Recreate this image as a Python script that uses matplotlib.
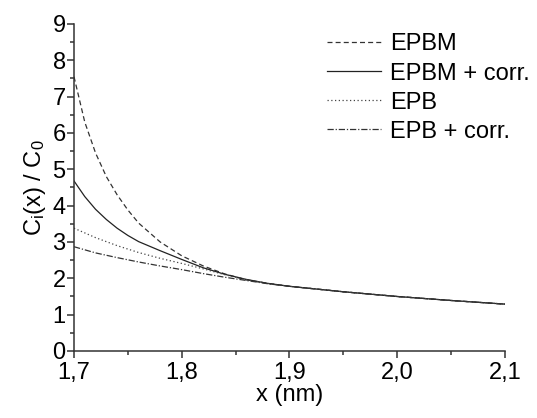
import numpy as np
import matplotlib
matplotlib.use('Agg')
import matplotlib.pyplot as plt

# values
x_epbm = [1.70, 1.71, 1.72, 1.73, 1.74, 1.75, 1.76, 1.78, 1.80, 1.82, 1.84, 1.86, 1.88, 1.90, 1.95, 2.00, 2.05, 2.10]
y_epbm = [7.55, 6.30, 5.45, 4.80, 4.30, 3.88, 3.52, 3.00, 2.62, 2.34, 2.12, 1.96, 1.86, 1.78, 1.63, 1.50, 1.39, 1.29]

x_epbm_corr = [1.70, 1.71, 1.72, 1.73, 1.74, 1.75, 1.76, 1.78, 1.79, 1.80, 1.82, 1.84, 1.86, 1.88, 1.90, 1.95, 2.00, 2.05, 2.10]
y_epbm_corr = [4.68, 4.25, 3.90, 3.62, 3.38, 3.18, 3.01, 2.76, 2.64, 2.52, 2.29, 2.11, 1.97, 1.86, 1.78, 1.63, 1.50, 1.39, 1.29]

x_epb = [1.70, 1.72, 1.74, 1.76, 1.78, 1.80, 1.82, 1.84, 1.86, 1.88, 1.90, 1.95, 2.00, 2.05, 2.10]
y_epb = [3.38, 3.12, 2.90, 2.71, 2.55, 2.41, 2.26, 2.10, 1.96, 1.86, 1.78, 1.63, 1.50, 1.39, 1.29]

x_epb_corr = [1.70, 1.72, 1.74, 1.76, 1.78, 1.80, 1.82, 1.84, 1.86, 1.88, 1.90, 1.95, 2.00, 2.05, 2.10]
y_epb_corr = [2.87, 2.70, 2.57, 2.45, 2.34, 2.24, 2.13, 2.03, 1.94, 1.85, 1.78, 1.63, 1.50, 1.39, 1.29]

labels = ['EPBM', 'EPBM + corr.', 'EPB', 'EPB + corr.']
x_ticks = [1.7, 1.8, 1.9, 2.0, 2.1]
x_tick_labels = ['1,7', '1,8', '1,9', '2,0', '2,1']
y_ticks = list(range(0, 10))


def main():
    plt.rcParams['font.family'] = ['Liberation Sans', 'DejaVu Sans']
    plt.rcParams['mathtext.default'] = 'regular'

    fig = plt.figure(figsize=(5.37, 4.18), dpi=100)
    ax = fig.add_axes([0.1378, 0.1603, 0.8026, 0.7823])

    ax.plot(x_epbm, y_epbm, color='#333333', lw=0.9, dashes=(4, 2.5), label=labels[0])
    ax.plot(x_epbm_corr, y_epbm_corr, color='#222222', lw=0.9, label=labels[1])
    ax.plot(x_epb, y_epb, color='#444444', lw=0.9, dashes=(1, 2), label=labels[2])
    ax.plot(x_epb_corr, y_epb_corr, color='#333333', lw=0.9, dashes=(5, 1.5, 1, 1.5), label=labels[3])

    ax.set_xlim(1.7, 2.1)
    ax.set_ylim(0, 9)
    ax.set_xticks(x_ticks)
    ax.set_xticklabels(x_tick_labels)
    ax.set_yticks(y_ticks)
    ax.set_xticks(np.arange(1.75, 2.1, 0.1), minor=True)
    ax.set_yticks(np.arange(0.5, 9, 1.0), minor=True)

    for side in ['top', 'right']:
        ax.spines[side].set_visible(False)
    for side in ['left', 'bottom']:
        ax.spines[side].set_linewidth(1.1)
        ax.spines[side].set_color('#333333')

    ax.tick_params(which='major', direction='out', length=5, width=1.1, color='#333333',
                   labelsize=17)
    ax.tick_params(which='minor', direction='out', length=3, width=1.1, color='#333333')
    ax.tick_params(axis='x', which='major', pad=3)
    ax.tick_params(axis='y', which='major', pad=1)

    ax.set_xlabel('x (nm)', fontsize=17, labelpad=0)
    ax.set_ylabel(r'C$_{i}$(x) / C$_{0}$', fontsize=17, labelpad=3)

    ax.legend(loc='upper right', bbox_to_anchor=(1.08, 1.0), frameon=False, fontsize=17,
              handlelength=2.3, handletextpad=0.4, labelspacing=0.3, borderaxespad=0)

    fig.savefig('out.png', dpi=100)


if __name__ == "__main__":
    main()
